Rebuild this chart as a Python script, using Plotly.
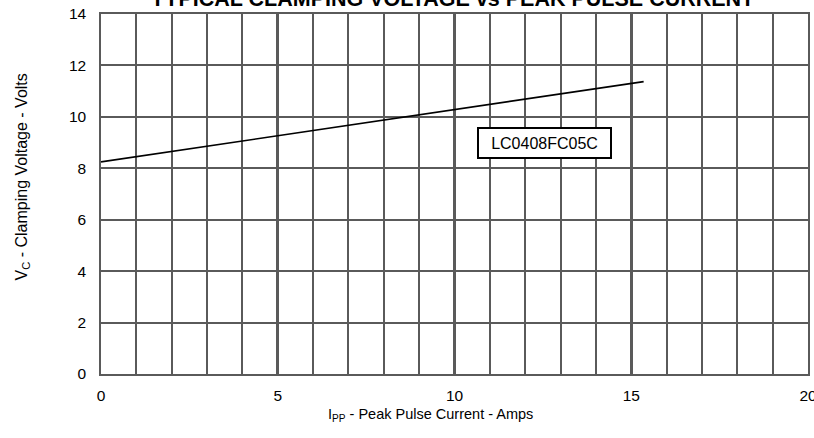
import plotly.graph_objects as go

current = [0, 5, 10, 15.35]
voltage = [8.25, 9.27, 10.28, 11.37]
x_ticks = [0, 5, 10, 15, 20]
y_ticks = [0, 2, 4, 6, 8, 10, 12, 14]
series_name = "LC0408FC05C"
title = "TYPICAL CLAMPING VOLTAGE vs PEAK PULSE CURRENT"

FONT = "Liberation Sans, Arial, Helvetica, sans-serif"
GRID = "#5a5a5a"

fig = go.Figure()
fig.add_trace(go.Scatter(x=current, y=voltage, mode="lines",
                         line=dict(color="black", width=1.6), showlegend=False))

fig.update_layout(
    width=814, height=438,
    margin=dict(l=101, r=6, t=14, b=64, autoexpand=False),
    paper_bgcolor="white", plot_bgcolor="white",
    font=dict(family=FONT, size=15, color="black"),
    xaxis=dict(range=[0, 20], tickvals=x_ticks, ticks="", showgrid=True,
               gridcolor=GRID, gridwidth=3, zeroline=False, automargin=False,
               showline=True, linecolor=GRID, linewidth=1.5, mirror=True,
               minor=dict(dtick=1, showgrid=True, gridcolor=GRID, gridwidth=1.5),
               tickfont=dict(size=15.5), ticklabelstandoff=7,
               ticklabeloverflow="allow"),
    yaxis=dict(range=[0, 14], tickvals=y_ticks, ticks="", showgrid=True,
               gridcolor=GRID, gridwidth=1.5, zeroline=False, automargin=False,
               showline=True, linecolor=GRID, linewidth=1.5, mirror=True,
               tickfont=dict(size=15.5), ticklabelstandoff=10,
               ticklabeloverflow="allow"),
)

fig.add_annotation(text="<b>" + title + "</b>", xref="paper", yref="paper",
                   x=(452 - 101) / 707, y=1, yanchor="bottom", yshift=1,
                   showarrow=False, font=dict(size=21.5, family=FONT))
fig.add_annotation(text="I<sub>PP</sub> - Peak Pulse Current - Amps",
                   xref="paper", yref="paper", x=(430 - 101) / 707, y=0,
                   yshift=-41, yanchor="middle", showarrow=False,
                   font=dict(size=14.5, family=FONT))
fig.add_annotation(text="V<sub>C</sub> - Clamping Voltage - Volts",
                   xref="paper", yref="paper", x=0, xshift=-79, xanchor="center",
                   y=(374 - 177.5) / 360, yanchor="middle",
                   textangle=-90, showarrow=False, font=dict(size=16, family=FONT))
fig.add_annotation(text=series_name, x=12.55, y=8.98, xref="x", yref="y",
                   showarrow=False, width=127, height=24,
                   bordercolor="black", borderwidth=2, borderpad=2,
                   bgcolor="white", font=dict(size=16, family=FONT))

fig.write_html("out.html", config={"displayModeBar": False},
               post_script="document.body.style.margin='0';document.body.style.overflow='hidden';")
